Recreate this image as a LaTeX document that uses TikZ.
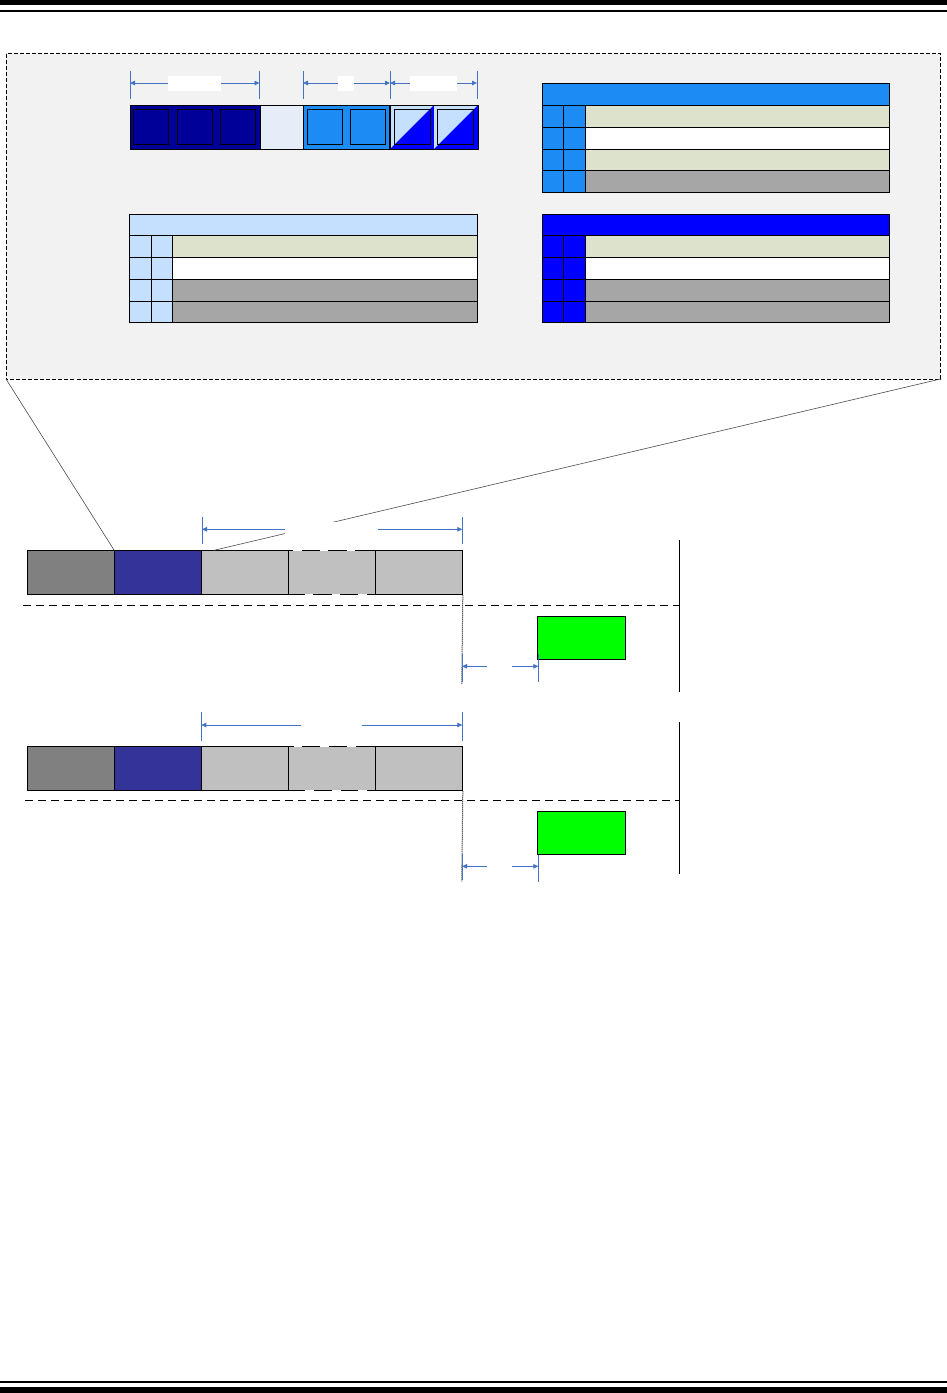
\documentclass[tikz,border=0pt]{standalone}
\usetikzlibrary{arrows.meta}
\definecolor{framebg}{HTML}{F2F2F2}
\definecolor{navy}{HTML}{000099}
\definecolor{palecell}{HTML}{E6EDF8}
\definecolor{midblue}{HTML}{1C8CF4}
\definecolor{lightblue}{HTML}{C5E0FF}
\definecolor{pureblue}{HTML}{0000FF}
\definecolor{olive}{HTML}{DDE2CC}
\definecolor{midgray}{HTML}{A6A6A6}
\definecolor{darkgray}{HTML}{808080}
\definecolor{indigo}{HTML}{333399}
\definecolor{silver}{HTML}{C0C0C0}
\definecolor{brightgreen}{HTML}{00FF00}
\definecolor{dimblue}{HTML}{4472C4}
\begin{document}
\begin{tikzpicture}[x=1pt,y=-1pt,
  cell/.style={draw=black,line width=0.8pt},
  blk/.style={draw=black,line width=1pt,inner sep=0pt,anchor=north west,minimum width=86.9pt,minimum height=44pt},
  greenbox/.style={draw=black,line width=1pt,fill=brightgreen,inner sep=0pt,anchor=north west,minimum width=87.4pt,minimum height=43pt},
  dimtick/.style={draw=dimblue,line width=0.8pt},
  dimboth/.style={draw=dimblue,line width=0.8pt,{Triangle[length=5pt,width=4.5pt]}-{Triangle[length=5pt,width=4.5pt]}},
  slant/.style={draw=black!70,line width=0.6pt},
  rowdash/.style={draw=black,line width=1pt,dash pattern=on 8pt off 5pt},
  dotv/.style={draw=black,line width=1pt,dash pattern=on 1pt off 1pt},
  gapmark/.style={draw=white,line width=1.6pt},
  mask/.style={fill=white}
]
\useasboundingbox (0,0) rectangle (947,1393);
% page rules
\fill[black] (0,0) rectangle (947,5);
\fill[black] (0,9.5) rectangle (947,11.5);
\fill[black] (0,1381) rectangle (947,1383);
\fill[black] (0,1387) rectangle (947,1393);

% dashed frame
\draw[fill=framebg,line width=0.8pt,dash pattern=on 4pt off 2pt] (6,53.5) rectangle (940.5,379);
\coordinate (fBL) at (6,379);
\coordinate (fBR) at (940.5,379);

% ---- top-left bar ----
\fill[navy] (130,105) rectangle (260,149);
\fill[palecell] (260,105) rectangle (303,149);
\fill[midblue] (303,105) rectangle (390,149);
\foreach \xa/\xb in {390/434,434/478}{
  \fill[lightblue] (\xa,105) -- (\xb,105) -- (\xa,149) -- cycle;
  \fill[pureblue] (\xb,105) -- (\xb,149) -- (\xa,149) -- cycle;
}
\foreach \xa in {133.3,177,220}{\draw[cell,fill=navy] (\xa,109.3) rectangle ++(35.4,35);}
\foreach \xa in {307.3,350.3}{\draw[cell,fill=midblue] (\xa,109.3) rectangle ++(35,35);}
\foreach \xa in {394.3,437.3}{\draw[cell] (\xa,109.3) rectangle ++(35.6,35);}
\draw[line width=1pt] (130,105) rectangle (478,149);
\draw[line width=0.8pt] (260,105) -- (260,149) (303,105) -- (303,149);
\draw[line width=1.2pt] (390,105) -- (390,149);

% dimension arrows above the bar
\foreach \x [count=\i] in {130,259.5,303,390,477}{
  \coordinate (tt\i) at (\x,83);
  \draw[dimtick] (\x,71) -- (\x,99);
}
\draw[dimboth] (tt1) -- (tt2);
\draw[dimboth] (tt3) -- (tt4);
\draw[dimboth] (tt4) -- (tt5);
\fill[mask] (168,76) rectangle (221,91);
\fill[mask] (338,76) rectangle (354,91);
\fill[mask] (410,76) rectangle (457,91);

% ---- tables ----
% left table
\draw[cell,fill=lightblue] (129.3,214.3) rectangle (477.3,235);
\foreach \ya/\yb/\c in {235/257.3/olive,257.3/279.3/white,279.3/301/midgray,301/322.3/midgray}{
  \draw[cell,fill=lightblue] (129.3,\ya) rectangle (151.3,\yb);
  \draw[cell,fill=lightblue] (151.3,\ya) rectangle (172.3,\yb);
  \draw[cell,fill=\c] (172.3,\ya) rectangle (477.3,\yb);
}
% right top table
\draw[cell,fill=midblue] (542.3,83.3) rectangle (889.3,105.3);
\foreach \ya/\yb/\c in {105.3/127.3/olive,127.3/149.3/white,149.3/170.3/olive,170.3/192.3/midgray}{
  \draw[cell,fill=midblue] (542.3,\ya) rectangle (563.3,\yb);
  \draw[cell,fill=midblue] (563.3,\ya) rectangle (585.3,\yb);
  \draw[cell,fill=\c] (585.3,\ya) rectangle (889.3,\yb);
}
% right bottom table
\draw[cell,fill=pureblue] (542.3,214) rectangle (889.3,235.3);
\foreach \ya/\yb/\c in {235.3/257.3/olive,257.3/279.3/white,279.3/301.3/midgray,301.3/322.3/midgray}{
  \draw[cell,fill=pureblue] (542.3,\ya) rectangle (563.3,\yb);
  \draw[cell,fill=pureblue] (563.3,\ya) rectangle (585.3,\yb);
  \draw[cell,fill=\c] (585.3,\ya) rectangle (889.3,\yb);
}

% ---- row 1 ----
\node[blk,fill=darkgray] (r1a) at (27.3,550.3) {};
\node[blk,fill=indigo]   (r1b) at (114.2,550.3) {};
\node[blk,fill=silver]   (r1c) at (201.1,550.3) {};
\node[blk,fill=silver]   (r1d) at (288,550.3) {};
\node[blk,fill=silver]   (r1e) at (374.9,550.3) {};
\coordinate (slantEnd) at (214,550.3);
\draw[slant] (fBL) -- (r1b.north west);
\draw[slant] (fBR) -- (slantEnd);
\coordinate (d1a) at (202,529.3);
\coordinate (d1b) at (462.3,529.3);
\draw[dimtick] (202,517) -- (202,544);
\draw[dimtick] (462.3,517) -- (462.3,544);
\draw[dimboth] (d1a) -- (d1b);
\fill[mask] (285,522) rectangle (378,537);
\foreach \xa/\xb in {293/302,320/328,347/355}{\draw[gapmark] (\xa,550.3) -- (\xb,550.3);}
\foreach \xa/\xb in {305/313,332/340,358/367}{\draw[gapmark] (\xa,594.3) -- (\xb,594.3);}
\draw[rowdash] (23,605.3) -- (679.5,605.3);
\draw[line width=1.2pt] (679.5,540) -- (679.5,692.3);
\draw[dotv] (r1e.south east) -- (461.8,684);
\node[greenbox] (g1) at (537.3,616.3) {};
\coordinate (s1a) at (462,666.3);
\coordinate (s1b) at (538.3,666.3);
\draw[dimtick] (462,654) -- (462,682);
\draw[dimtick] (538.3,654) -- (538.3,682);
\draw[dimboth] (s1a) -- (s1b);
\fill[mask] (487,660) rectangle (512,673);

% ---- row 2 ----
\node[blk,fill=darkgray] (r2a) at (27.3,746.3) {};
\node[blk,fill=indigo]   (r2b) at (114.2,746.3) {};
\node[blk,fill=silver]   (r2c) at (201.1,746.3) {};
\node[blk,fill=silver]   (r2d) at (288,746.3) {};
\node[blk,fill=silver]   (r2e) at (374.9,746.3) {};
\coordinate (d2a) at (201.3,725);
\coordinate (d2b) at (462.3,725);
\draw[dimtick] (201.3,712.3) -- (201.3,740.7);
\draw[dimtick] (462.3,712.3) -- (462.3,740.7);
\draw[dimboth] (d2a) -- (d2b);
\fill[mask] (301,716) rectangle (362,734);
\foreach \xa/\xb in {294/302,320/329,347/356}{\draw[gapmark] (\xa,746.3) -- (\xb,746.3);}
\foreach \xa/\xb in {305/314,332/341,358/367}{\draw[gapmark] (\xa,790.3) -- (\xb,790.3);}
\draw[rowdash] (25,800) -- (679.5,800);
\draw[line width=1.2pt] (679.5,721.7) -- (679.5,874.3);
\draw[dotv] (r2e.south east) -- (461.8,881.7);
\node[greenbox] (g2) at (537.3,811.3) {};
\coordinate (s2a) at (462,866.3);
\coordinate (s2b) at (538.3,866.3);
\draw[dimtick] (462,854) -- (462,880);
\draw[dimtick] (538.3,855) -- (538.3,881.7);
\draw[dimboth] (s2a) -- (s2b);
\fill[mask] (487,860) rectangle (512,873);
\end{tikzpicture}
\end{document}
